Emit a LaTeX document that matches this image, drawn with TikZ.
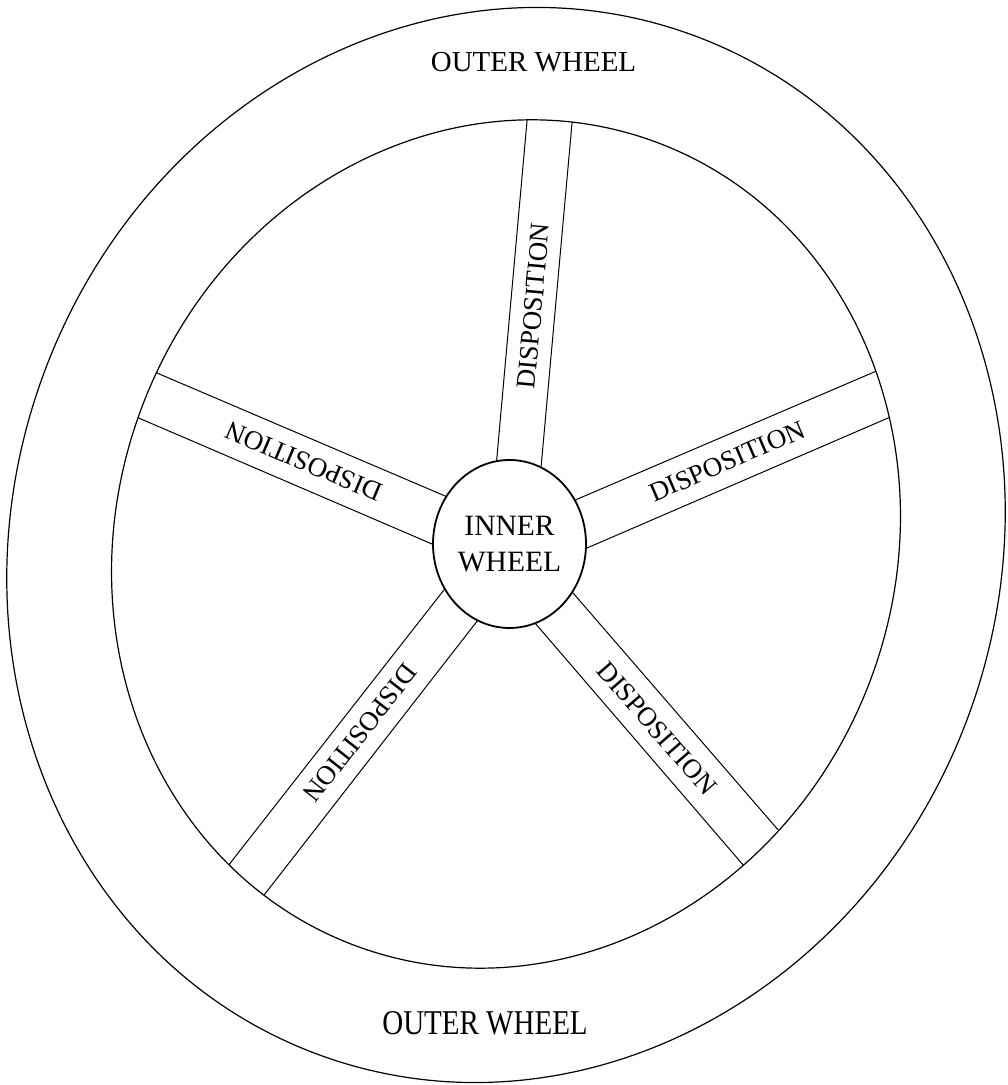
\documentclass[tikz,border=0pt]{standalone}
\usepackage{fontspec}
\setmainfont{Liberation Serif}
\usetikzlibrary{shapes.geometric}
\begin{document}
\begin{tikzpicture}[x=1pt,y=1pt,
  rim/.style={draw=black, line width=1.2pt, ellipse, inner sep=0pt, outer sep=0pt},
  spoke/.style={draw=black, line width=1pt},
  spokelabel/.style={font=\fontsize{27}{30}\selectfont, inner sep=0pt},
  ringlabel/.style={font=\fontsize{29}{32}\selectfont, inner sep=0pt},
  hubstyle/.style={draw=black, line width=1.8pt, fill=white, ellipse, inner sep=0pt, outer sep=0pt,
    align=center, font=\fontsize{29.5}{36}\selectfont}]
\useasboundingbox (0,0) rectangle (1008,1085);
\fill[white] (0,0) rectangle (1008,1085);
% rims
\node[rim, minimum width=986pt, minimum height=1086pt, rotate=-20] (outer) at (506,540) {};
\node[rim, minimum width=778pt, minimum height=858pt, rotate=-21] (inner) at (506,541) {};
% spoke end points
\coordinate (t1a) at (528.9,985);  \coordinate (t1b) at (491.3,565);
\coordinate (t2a) at (574.1,985);  \coordinate (t2b) at (536.3,565);
\coordinate (r1a) at (920,732.6);  \coordinate (r1b) at (540,569.9);
\coordinate (r2a) at (930,685.1);  \coordinate (r2b) at (540,516.7);
\coordinate (d1a) at (800,229.8);  \coordinate (d1b) at (545,524.4);
\coordinate (d2a) at (765,194.6);  \coordinate (d2b) at (510,491.0);
\coordinate (e1a) at (210,196.1);  \coordinate (e1b) at (470,528.3);
\coordinate (e2a) at (245,165.4);  \coordinate (e2b) at (500,493.3);
\coordinate (l1a) at (130,723.5);  \coordinate (l1b) at (480,574.1);
\coordinate (l2a) at (110,679.3);  \coordinate (l2b) at (470,524.7);
\begin{scope}
  \clip[rotate around={-21:(506,541)}] (506,541) ellipse [x radius=389pt, y radius=429pt];
  \draw[spoke] (t1a) -- (t1b) (t2a) -- (t2b);
  \draw[spoke] (r1a) -- (r1b) (r2a) -- (r2b);
  \draw[spoke] (d1a) -- (d1b) (d2a) -- (d2b);
  \draw[spoke] (e1a) -- (e1b) (e2a) -- (e2b);
  \draw[spoke] (l1a) -- (l1b) (l2a) -- (l2b);
\end{scope}
% hub
\node[hubstyle, minimum width=153pt, minimum height=168pt] (hub) at (509.5,541) {INNER\\WHEEL};
% spoke labels
\node[spokelabel, rotate=84.9] (dtop) at (533.5,779) {DISPOSITION};
\node[spokelabel, rotate=23.3] (dright) at (727,623.7) {DISPOSITION};
\node[spokelabel, rotate=-49] (dlowright) at (657,356.5) {DISPOSITION};
\node[spokelabel, rotate=232] (dlowleft) at (360,352) {DISPOSITION};
\node[spokelabel, rotate=157] (dleft) at (304,623.5) {DISPOSITION};
% ring labels
\node[ringlabel] (otop) at (533.5,1022.5) {OUTER WHEEL};
\node[ringlabel, yscale=1.2] (obottom) at (485,61.5) {OUTER WHEEL};
\end{tikzpicture}
\end{document}
